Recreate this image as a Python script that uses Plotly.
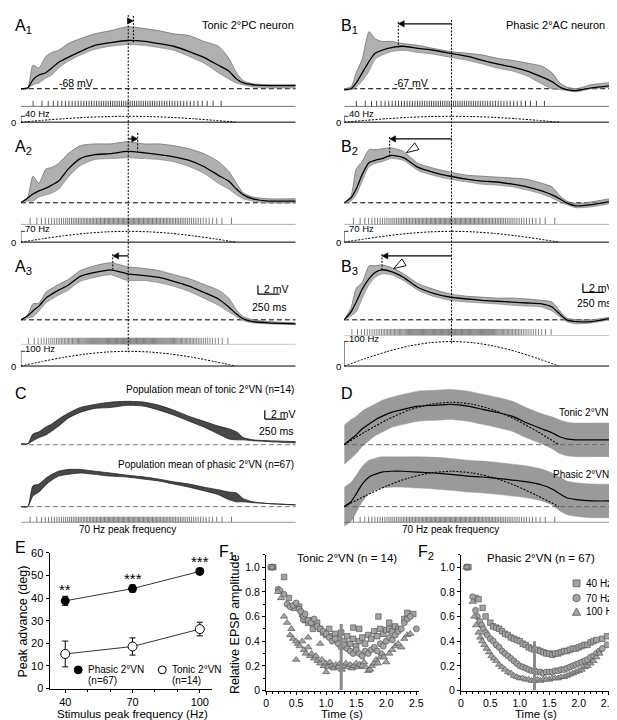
import numpy as np
import plotly.graph_objects as go

W, H = 617, 720
FONT = "Arial, 'Liberation Sans', Helvetica, sans-serif"

# ------------------------------------------------------------------ data
# stimulus: normalised frequency profile (dotted curves) and peak frequencies
STIM_PROFILE_T = [0, 0.25, 0.5, 0.75, 1.0, 1.25, 1.5, 1.75, 2.0, 2.25, 2.5]
STIM_PROFILE = [0, 0.31, 0.59, 0.81, 0.95, 1.0, 0.95, 0.81, 0.59, 0.31, 0]
PEAK_HZ = [40, 70, 100]
STIM_PEAK_T = 1.25

# membrane potential traces (mV above rest), sampled at TRACE_T (s)
TRACE_T = [0, 0.08, 0.14, 0.21, 0.29, 0.36, 0.44, 0.55, 0.69, 0.86, 1.04, 1.24,
           1.44, 1.61, 1.78, 1.96, 2.13, 2.30, 2.42, 2.51, 2.59, 2.70, 2.88, 3.20]
A1_MEAN = [0, 0.2, 2.0, 3.1, 3.6, 4.7, 6.0, 7.1, 8.4, 9.8, 10.4, 10.9, 10.7, 10.2, 9.6, 8.4, 7.1, 5.3, 4.0, 2.2, 1.3, 0.9, 0.7, 0.7]
A1_UP = [0, 0.2, 5.3, 4.7, 7.3, 8.2, 8.7, 10.2, 11.3, 12.4, 13.1, 14.0, 13.6, 13.1, 12.4, 12.0, 10.7, 9.6, 6.9, 3.6, 1.8, 1.1, 0.9, 0.9]
A1_LO = [0, 0, 0.9, 1.3, 2.4, 3.1, 4.7, 6.2, 7.6, 8.9, 9.6, 10.0, 9.8, 9.3, 8.7, 7.3, 5.8, 3.6, 2.2, 1.3, 0.9, 0.4, 0.2, 0.2]
A2_MEAN = [0, 1.1, 2.0, 2.7, 3.3, 4.0, 4.9, 7.6, 10.0, 10.9, 11.1, 11.6, 11.3, 10.9, 10.4, 9.6, 8.2, 6.2, 4.9, 3.1, 1.8, 0.9, 0.4, 0.4]
A2_UP = [0, 1.3, 6.0, 4.4, 7.6, 8.0, 8.9, 11.1, 12.9, 13.3, 13.3, 13.8, 13.3, 13.3, 12.9, 12.2, 11.1, 9.3, 7.1, 4.4, 2.2, 1.3, 0.9, 0.9]
A2_LO = [0, 0.4, 0.4, 1.3, 1.8, 2.2, 3.1, 5.8, 8.4, 9.8, 10.0, 10.2, 10.0, 9.8, 9.3, 8.2, 6.7, 4.4, 3.1, 1.8, 0.9, 0.4, 0, 0]
A3_MEAN = [0, 0.9, 2.0, 3.1, 4.9, 5.8, 6.7, 7.8, 9.8, 10.7, 11.3, 10.4, 10.0, 9.6, 8.7, 7.6, 6.2, 4.7, 2.9, 1.3, 0.2, -0.4, -0.7, -0.9]
A3_UP = [0, 1.1, 3.6, 3.8, 6.2, 7.1, 8.0, 9.1, 11.1, 12.2, 12.9, 12.0, 11.6, 11.1, 10.2, 9.3, 8.0, 6.7, 4.9, 2.2, 0.7, 0, -0.4, -0.7]
A3_LO = [0, 0.4, 0.7, 2.0, 3.8, 4.7, 5.6, 6.7, 8.7, 9.6, 10.2, 8.9, 8.9, 8.4, 7.6, 6.4, 4.9, 3.3, 1.8, 0.7, -0.2, -0.7, -0.9, -1.1]
B1_MEAN = [-0.2, 0, 1.3, 3.6, 6.2, 8.0, 8.7, 9.3, 9.6, 9.1, 8.7, 8.0, 7.3, 6.4, 5.6, 4.9, 4.0, 2.7, 1.6, 0.4, -0.2, -0.4, 0.2, 0.9]
B1_UP = [0, 0.4, 3.6, 6.7, 12.9, 11.3, 10.7, 10.7, 10.2, 9.8, 9.1, 8.4, 8.0, 7.6, 6.9, 6.4, 5.8, 5.1, 3.6, 1.3, 0.4, 0, 0.9, 1.6]
B1_LO = [-0.4, -0.2, 0.4, 1.8, 4.0, 6.7, 7.6, 8.4, 8.7, 8.2, 7.8, 7.1, 6.4, 5.6, 4.7, 4.0, 2.9, 1.1, 0, -0.2, -0.4, -0.7, 0, 0.4]
B2_MEAN = [0, 1.1, 3.1, 6.4, 9.1, 9.6, 10.0, 10.7, 10.2, 8.0, 6.9, 6.0, 5.3, 4.9, 4.7, 4.2, 3.6, 2.7, 1.8, 0.9, 0, -0.7, -0.4, 0.7]
B2_UP = [0, 1.6, 7.6, 9.3, 12.0, 12.0, 12.2, 12.4, 11.6, 8.9, 7.8, 6.9, 6.2, 6.0, 5.8, 5.6, 5.3, 4.4, 3.6, 1.6, 0.4, -0.2, 0.2, 1.3]
B2_LO = [-0.2, 0.4, 1.8, 4.9, 8.2, 8.9, 9.3, 10.0, 9.6, 7.3, 6.2, 5.3, 4.7, 4.2, 4.0, 3.6, 2.9, 2.0, 1.1, 0.2, -0.4, -1.1, -0.9, 0.2]
B3_MEAN = [0, 1.8, 4.0, 6.9, 9.3, 10.7, 11.3, 10.9, 9.6, 7.3, 6.0, 5.1, 4.7, 4.4, 4.2, 4.0, 3.8, 3.6, 2.9, 1.3, 0, -0.4, -0.4, 0.7]
B3_UP = [0, 2.7, 7.1, 8.4, 12.2, 12.2, 12.4, 11.8, 10.4, 8.2, 6.9, 5.8, 5.3, 5.1, 4.9, 4.9, 4.7, 4.4, 4.0, 2.0, 0.4, 0, 0, 0.9]
B3_LO = [-0.2, 0.9, 1.8, 4.9, 8.0, 9.6, 10.4, 10.2, 8.9, 6.7, 5.3, 4.4, 4.0, 3.8, 3.6, 3.3, 3.1, 2.9, 2.0, 0.7, -0.4, -0.9, -0.7, 0.4]
A_PEAK_T = [1.31, 1.36, 1.07]
B_PEAK_T = [0.63, 0.53, 0.44]
REST_MV = ["-68 mV", "-67 mV"]

# population means (C) and mean +/- SEM (D)
C_TONIC_UP = [0.2, 0.2, 2.4, 2.9, 4.0, 4.7, 5.8, 7.1, 8.4, 9.1, 9.6, 9.8, 9.6, 8.9, 7.8, 6.4, 5.3, 4.2, 3.6, 2.9, 1.6, 1.1, 0.9, 0.7]
C_TONIC_LO = [0.2, 0.2, 0.9, 1.6, 2.2, 3.1, 4.2, 6.0, 7.3, 8.2, 8.4, 8.9, 8.7, 7.8, 6.7, 5.3, 4.0, 2.4, 1.3, 1.1, 1.1, 0.9, 0.7, 0.4]
C_PHASIC_UP = [0, 0, 4.7, 5.1, 6.4, 7.3, 8.0, 8.4, 8.4, 8.0, 7.6, 7.1, 6.7, 6.2, 5.6, 5.1, 4.4, 3.8, 3.3, 3.1, 1.8, 1.1, 0.7, 0.4]
C_PHASIC_LO = [0, 0, 2.4, 3.3, 4.9, 6.0, 6.9, 7.3, 7.6, 7.3, 6.9, 6.7, 6.2, 5.8, 5.1, 4.4, 3.6, 2.7, 1.6, 1.1, 1.1, 0.9, 0.7, 0.4]
D_TONIC_MEAN = [0, 1.3, 2.2, 3.6, 4.7, 5.6, 6.4, 7.3, 8.0, 8.7, 8.9, 9.1, 8.7, 8.0, 7.3, 6.4, 4.9, 3.6, 2.7, 1.8, 1.3, 1.1, 1.1, 1.1]
D_TONIC_SEM = [4.4, 4.4, 4.2, 4.0, 3.8, 3.6, 3.6, 3.4, 3.4, 3.4, 3.4, 3.4, 3.4, 3.4, 3.4, 3.4, 3.4, 3.4, 3.6, 3.8, 3.8, 3.8, 3.8, 3.8]
D_PHASIC_MEAN = [0, 1.1, 2.9, 5.1, 6.7, 7.3, 7.8, 8.0, 8.0, 7.8, 7.6, 7.3, 6.9, 6.7, 6.4, 6.0, 5.6, 4.9, 4.0, 2.9, 2.0, 1.6, 1.3, 1.3]
D_PHASIC_SEM = [4.4, 4.4, 4.2, 4.0, 3.8, 3.6, 3.6, 3.6, 3.6, 3.6, 3.6, 3.6, 3.6, 3.6, 3.6, 3.6, 3.6, 3.6, 3.6, 3.8, 3.8, 3.8, 3.8, 3.8]
D_STIM_PEAK_MV = [9.6, 8.0]

# E: peak advance
E_FREQ = [40, 70, 100]
E_PHASIC = [38.8, 44.2, 51.8]
E_PHASIC_ERR = [2.0, 1.6, 1.4]
E_TONIC = [15.3, 18.6, 26.3]
E_TONIC_ERR = [5.7, 3.8, 3.0]
E_STARS = ["**", "***", "***"]
E_NAMES = [("Phasic 2°VN", "(n=67)"), ("Tonic 2°VN", "(n=14)")]

# F: relative EPSP amplitude
F1_40_T = [0.08, 0.12, 0.30, 0.38, 0.46, 0.55, 0.60, 0.65, 0.70, 0.75, 0.80, 0.85, 0.90, 0.95, 1.00, 1.05, 1.10, 1.15, 1.20, 1.25, 1.30, 1.35, 1.40, 1.45, 1.50, 1.55, 1.60, 1.65, 1.70, 1.75, 1.80, 1.85, 1.90, 1.95, 2.00, 2.05, 2.10, 2.15, 2.20, 2.30, 2.35, 2.45, 1.87, 2.05, 1.45, 1.55, 0.62, 0.78]
F1_40_Y = [1.0, 1.0, 0.92, 0.75, 0.67, 0.68, 0.62, 0.57, 0.55, 0.57, 0.53, 0.55, 0.50, 0.47, 0.45, 0.50, 0.44, 0.46, 0.42, 0.47, 0.40, 0.44, 0.38, 0.42, 0.36, 0.40, 0.43, 0.38, 0.45, 0.42, 0.48, 0.44, 0.50, 0.46, 0.49, 0.50, 0.48, 0.52, 0.50, 0.58, 0.63, 0.62, 0.60, 0.55, 0.51, 0.50, 0.58, 0.50]
F1_70_T = [0.10, 0.20, 0.23, 0.30, 0.35, 0.40, 0.45, 0.50, 0.55, 0.58, 0.62, 0.65, 0.70, 0.75, 0.80, 0.85, 0.90, 0.95, 1.00, 1.05, 1.10, 1.15, 1.20, 1.25, 1.30, 1.35, 1.40, 1.45, 1.50, 1.55, 1.60, 1.65, 1.70, 1.75, 1.80, 1.85, 1.90, 1.95, 2.00, 2.05, 2.10, 2.15, 2.20, 2.25, 2.30, 2.35, 2.40, 2.50]
F1_70_Y = [1.0, 0.82, 0.81, 0.78, 0.70, 0.68, 0.69, 0.71, 0.66, 0.64, 0.60, 0.62, 0.57, 0.55, 0.58, 0.52, 0.50, 0.48, 0.46, 0.43, 0.40, 0.42, 0.38, 0.35, 0.37, 0.34, 0.32, 0.30, 0.33, 0.30, 0.28, 0.32, 0.30, 0.33, 0.35, 0.32, 0.38, 0.36, 0.40, 0.43, 0.41, 0.45, 0.48, 0.50, 0.55, 0.58, 0.60, 0.50]
F1_100_T = [0.10, 0.20, 0.25, 0.30, 0.35, 0.40, 0.42, 0.45, 0.50, 0.53, 0.56, 0.60, 0.63, 0.66, 0.70, 0.73, 0.76, 0.80, 0.83, 0.86, 0.90, 0.93, 0.96, 1.00, 1.03, 1.06, 1.10, 1.13, 1.16, 1.20, 1.23, 1.26, 1.30, 1.33, 1.36, 1.40, 1.43, 1.46, 1.50, 1.53, 1.56, 1.60, 1.63, 1.66, 1.70, 1.73, 1.76, 1.80, 1.83, 1.86, 1.90, 1.93, 1.96, 2.00, 2.05, 2.10, 2.15, 2.20, 2.25, 2.30, 2.35, 2.40, 0.50, 0.70, 0.90, 1.00]
F1_100_Y = [1.0, 0.80, 0.75, 0.60, 0.55, 0.45, 0.50, 0.42, 0.40, 0.38, 0.36, 0.40, 0.33, 0.30, 0.35, 0.28, 0.30, 0.26, 0.28, 0.24, 0.22, 0.25, 0.20, 0.22, 0.19, 0.23, 0.20, 0.18, 0.21, 0.19, 0.22, 0.17, 0.20, 0.22, 0.19, 0.21, 0.18, 0.20, 0.22, 0.19, 0.21, 0.20, 0.23, 0.19, 0.16, 0.17, 0.20, 0.22, 0.25, 0.22, 0.27, 0.30, 0.27, 0.23, 0.30, 0.33, 0.36, 0.38, 0.35, 0.42, 0.45, 0.46, 0.25, 0.43, 0.38, 0.15]
F2_40_T = [0.10, 0.13, 0.25, 0.30, 0.37, 0.42, 0.50, 0.55, 0.60, 0.65, 0.70, 0.75, 0.80, 0.85, 0.90, 0.95, 1.00, 1.05, 1.10, 1.15, 1.20, 1.25, 1.30, 1.35, 1.40, 1.45, 1.50, 1.55, 1.60, 1.65, 1.70, 1.75, 1.80, 1.85, 1.90, 1.95, 2.00, 2.05, 2.10, 2.15, 2.20, 2.25, 2.30, 2.40, 2.48]
F2_40_Y = [1.0, 1.0, 0.75, 0.74, 0.67, 0.60, 0.55, 0.52, 0.51, 0.50, 0.48, 0.46, 0.45, 0.43, 0.42, 0.41, 0.40, 0.38, 0.37, 0.35, 0.34, 0.33, 0.33, 0.32, 0.31, 0.30, 0.30, 0.29, 0.30, 0.30, 0.31, 0.32, 0.32, 0.33, 0.34, 0.34, 0.35, 0.36, 0.37, 0.37, 0.39, 0.40, 0.41, 0.42, 0.44]
F2_70_T = [0.10, 0.20, 0.25, 0.28, 0.32, 0.35, 0.38, 0.42, 0.45, 0.50, 0.55, 0.60, 0.65, 0.70, 0.75, 0.80, 0.85, 0.90, 0.95, 1.00, 1.05, 1.10, 1.15, 1.20, 1.25, 1.30, 1.35, 1.40, 1.45, 1.50, 1.55, 1.60, 1.65, 1.70, 1.75, 1.80, 1.85, 1.90, 1.95, 2.00, 2.05, 2.10, 2.15, 2.20, 2.25, 2.30, 2.35, 2.40, 2.48]
F2_70_Y = [1.0, 0.76, 0.65, 0.60, 0.56, 0.53, 0.50, 0.47, 0.45, 0.42, 0.40, 0.37, 0.35, 0.32, 0.30, 0.28, 0.26, 0.24, 0.22, 0.20, 0.19, 0.18, 0.17, 0.16, 0.16, 0.15, 0.15, 0.14, 0.15, 0.15, 0.15, 0.16, 0.16, 0.17, 0.17, 0.18, 0.19, 0.20, 0.21, 0.22, 0.23, 0.24, 0.25, 0.27, 0.28, 0.30, 0.32, 0.34, 0.37]
F2_100_T = [0.10, 0.20, 0.23, 0.26, 0.30, 0.33, 0.36, 0.40, 0.44, 0.48, 0.52, 0.56, 0.60, 0.65, 0.70, 0.75, 0.80, 0.85, 0.90, 0.95, 1.00, 1.05, 1.10, 1.15, 1.20, 1.25, 1.30, 1.35, 1.40, 1.45, 1.50, 1.55, 1.60, 1.65, 1.70, 1.75, 1.80, 1.85, 1.90, 1.95, 2.00, 2.05, 2.10, 2.15, 2.20, 2.25, 2.30, 2.35]
F2_100_Y = [1.0, 0.72, 0.60, 0.53, 0.47, 0.43, 0.40, 0.37, 0.34, 0.31, 0.28, 0.26, 0.24, 0.21, 0.19, 0.17, 0.15, 0.14, 0.12, 0.11, 0.10, 0.10, 0.09, 0.09, 0.08, 0.08, 0.09, 0.08, 0.09, 0.09, 0.09, 0.10, 0.10, 0.10, 0.11, 0.11, 0.12, 0.13, 0.14, 0.15, 0.16, 0.17, 0.19, 0.20, 0.22, 0.24, 0.27, 0.30]
F_BAR_TOP = [0.54, 0.40]

# ------------------------------------------------------------------ helpers
traces, annotations, shapes, layout = [], [], [], {}
_n = [0]


def px_x(x):
    return x / W


def px_y(y):
    return 1 - y / H


def add_axes(xpx, ypx, xr, yr, xkw=None, ykw=None):
    _n[0] += 1
    s = '' if _n[0] == 1 else str(_n[0])
    xa = dict(domain=[xpx[0] / W, xpx[1] / W], range=xr, anchor='y' + s, visible=False, fixedrange=True)
    ya = dict(domain=[1 - ypx[1] / H, 1 - ypx[0] / H], range=yr, anchor='x' + s, visible=False, fixedrange=True)
    if xkw:
        xa.update(xkw)
    if ykw:
        ya.update(ykw)
    layout['xaxis' + s] = xa
    layout['yaxis' + s] = ya
    return 'x' + s, 'y' + s


def line(xa, ya, x, y, color='black', width=1.0, dash='solid', shape='linear', fill=None, fillcolor=None):
    traces.append(go.Scatter(x=x, y=y, xaxis=xa, yaxis=ya, mode='lines',
                             line=dict(color=color, width=width, dash=dash, shape=shape, smoothing=0.6),
                             fill=fill, fillcolor=fillcolor, hoverinfo='skip', showlegend=False))


def text(t, x, y, size=11, xanchor='center', yanchor='middle', xref='paper', yref='paper', **kw):
    if xref == 'paper':
        x = px_x(x)
    if yref == 'paper':
        y = px_y(y)
    annotations.append(dict(text=t, x=x, y=y, xref=xref, yref=yref, showarrow=False,
                            xanchor=xanchor, yanchor=yanchor,
                            font=dict(family=FONT, size=size, color='black'), **kw))


def tick_times(peak):
    tt = np.linspace(STIM_PROFILE_T[0], STIM_PROFILE_T[-1], 5001)
    rate = peak * np.interp(tt, STIM_PROFILE_T, STIM_PROFILE)
    cum = np.concatenate([[0], np.cumsum((rate[1:] + rate[:-1]) / 2 * np.diff(tt))])
    n = np.arange(0.5, cum[-1], 1.0)
    return np.interp(n, cum, tt)


MV_SCALE = 4.5          # px per mV
T_RANGE = [0, 3.2]
COL_X = {'A': (10, 288), 'B': (337, 615)}
S_PER_PX = (T_RANGE[1] - T_RANGE[0]) / (COL_X['A'][1] - COL_X['A'][0])
GREY = '#8c8c8c'
DASH = '5px,3px'
DOT = '2px,1.5px'


def row_axes(col, top, bottom, base, scale):
    return add_axes(COL_X[col], (top, bottom), T_RANGE, [-(bottom - base) / scale, (base - top) / scale])


def tick_row(col, top, bottom, peak, color, basecolor):
    xa, ya = add_axes(COL_X[col], (top, bottom), T_RANGE, [0, 1])
    xs, ys = [], []
    for t in tick_times(peak):
        xs += [t, t, None]
        ys += [0, 1, None]
    line(xa, ya, xs, ys, color=color, width=0.7)
    line(xa, ya, T_RANGE, [0, 0], color=basecolor, width=1)


def freq_row(col, base, scale, peak, zero_x):
    xa, ya = row_axes(col, base - 30, base + 3, base, scale)
    line(xa, ya, STIM_PROFILE_T, [peak * s for s in STIM_PROFILE], dash=DOT, width=1, shape='spline')
    line(xa, ya, T_RANGE, [0, 0], width=1)
    line(xa, ya, [0.05, 0, 0], [peak, peak, 0], width=0.8)
    text(f"{peak} Hz", 0.03, peak, size=9.5, xanchor='left', yanchor='middle', xref=xa, yref=ya, yshift=3)
    text("0", zero_x, base, size=9.5, xanchor='center')


def phase_arrow(xa, t_head, y_px):
    """arrow from the stimulus peak to the response peak (head = filled triangle)."""
    hl = 6 * S_PER_PX
    d = 1 if t_head > STIM_PEAK_T else -1
    base_t = t_head - d * hl
    if (base_t - STIM_PEAK_T) * d > 0:
        shapes.append(dict(type='line', xref=xa, yref='paper', x0=STIM_PEAK_T, x1=base_t,
                           y0=px_y(y_px), y1=px_y(y_px), line=dict(color='black', width=1.1)))
    shapes.append(dict(type='path', xref=xa, yref='paper',
                       path=f"M {t_head},{px_y(y_px)} L {base_t},{px_y(y_px - 3.2)} "
                            f"L {base_t},{px_y(y_px + 3.2)} Z",
                       fillcolor='black', line=dict(color='black', width=0.5)))


def open_head(tip, base_c, half=4.0):
    dx, dy = tip[0] - base_c[0], tip[1] - base_c[1]
    n = (dx * dx + dy * dy) ** 0.5
    ox, oy = -dy / n * half, dx / n * half
    p1 = (base_c[0] + ox, base_c[1] + oy)
    p2 = (base_c[0] - ox, base_c[1] - oy)
    shapes.append(dict(type='path', xref='paper', yref='paper',
                       path=f"M {px_x(tip[0])},{px_y(tip[1])} L {px_x(p1[0])},{px_y(p1[1])} "
                            f"L {px_x(p2[0])},{px_y(p2[1])} Z",
                       fillcolor='white', line=dict(color='black', width=0.9)))


# ------------------------------------------------------------------ A / B rows
ROWS = [
    dict(col='A', m=A1_MEAN, u=A1_UP, l=A1_LO, tr=(0, 84, 76), tk=(88, 94), fb=110, fs=0.15, hz=40,
         pk=A_PEAK_T[0], ay=7, sec=(2, 30), tcol='black', bcol='black'),
    dict(col='A', m=A2_MEAN, u=A2_UP, l=A2_LO, tr=(118, 200, 192), tk=(207, 214), fb=232, fs=0.157, hz=70,
         pk=A_PEAK_T[1], ay=127, sec=(121, 141), tcol='#444', bcol='#666'),
    dict(col='A', m=A3_MEAN, u=A3_UP, l=A3_LO, tr=(240, 318, 311), tk=(329, 336), fb=358, fs=0.15, hz=100,
         pk=A_PEAK_T[2], ay=246, sec=(244, 261), tcol='#555', bcol='#999'),
    dict(col='B', m=B1_MEAN, u=B1_UP, l=B1_LO, tr=(0, 84, 76), tk=(88, 94), fb=110, fs=0.15, hz=40,
         pk=B_PEAK_T[0], ay=10, sec=(8, 34), tcol='black', bcol='black'),
    dict(col='B', m=B2_MEAN, u=B2_UP, l=B2_LO, tr=(118, 200, 192), tk=(207, 214), fb=232, fs=0.157, hz=70,
         pk=B_PEAK_T[1], ay=127, sec=(125, 145), tcol='#444', bcol='#666'),
    dict(col='B', m=B3_MEAN, u=B3_UP, l=B3_LO, tr=(240, 318, 311), tk=(320, 327), fb=358, fs=0.25, hz=100,
         pk=B_PEAK_T[2], ay=246, sec=(244, 261), tcol='#555', bcol='#999'),
]

col_axis = {}
for r in ROWS:
    top, bottom, base = r['tr']
    xa, ya = row_axes(r['col'], top, bottom, base, MV_SCALE)
    col_axis.setdefault(r['col'], xa)
    r['xa'], r['ya'] = xa, ya
    line(xa, ya, T_RANGE, [0, 0], dash=DASH, width=1)
    line(xa, ya, TRACE_T, r['l'], color=GREY, width=0.8, shape='spline')
    line(xa, ya, TRACE_T, r['u'], color='#7a7a7a', width=0.9, shape='spline', fill='tonexty',
         fillcolor='rgba(150,150,150,0.75)')
    line(xa, ya, TRACE_T, r['m'], color='black', width=1.3, shape='spline')
    tick_row(r['col'], r['tk'][0], r['tk'][1], r['hz'], r['tcol'], r['bcol'])
    freq_row(r['col'], r['fb'], r['fs'], r['hz'], 3 if r['col'] == 'A' else 331)
    shapes.append(dict(type='line', xref=xa, yref='paper', x0=r['pk'], x1=r['pk'],
                       y0=px_y(r['sec'][0]), y1=px_y(r['sec'][1]),
                       line=dict(color='black', width=1, dash=DOT)))
    phase_arrow(xa, r['pk'], r['ay'])

# main stimulus-peak dotted verticals
shapes.append(dict(type='line', xref=col_axis['A'], yref='paper', x0=STIM_PEAK_T, x1=STIM_PEAK_T,
                   y0=px_y(1), y1=px_y(344), line=dict(color='black', width=1, dash=DOT)))
shapes.append(dict(type='line', xref=col_axis['B'], yref='paper', x0=STIM_PEAK_T, x1=STIM_PEAK_T,
                   y0=px_y(6), y1=px_y(335), line=dict(color='black', width=1, dash=DOT)))

# open arrowheads in B2 / B3 (pointing down-left at the adapting response)
open_head((400, 141), (410.5, 134.5))
open_head((387, 259), (397.5, 252.5))

# labels
LBL = 16
text("A<sub>1</sub>", 2, 13, size=LBL, xanchor='left')
text("A<sub>2</sub>", 2, 136, size=LBL, xanchor='left')
text("A<sub>3</sub>", 2, 258, size=LBL, xanchor='left')
text("B<sub>1</sub>", 332, 13, size=LBL, xanchor='left')
text("B<sub>2</sub>", 332, 136, size=LBL, xanchor='left')
text("B<sub>3</sub>", 332, 258, size=LBL, xanchor='left')
text("C", 2, 386, size=LBL, xanchor='left')
text("D", 332, 386, size=LBL, xanchor='left')
text("E", 2, 543, size=LBL, xanchor='left')
text("F<sub>1</sub>", 208, 548, size=LBL, xanchor='left')
text("F<sub>2</sub>", 410, 548, size=LBL, xanchor='left')
text("Tonic 2°PC neuron", 240, 11, size=11)
text("Phasic 2°AC neuron", 551, 11, size=11)
text(REST_MV[0], 47, 70, size=10.5, xanchor='left')
text(REST_MV[1], 385, 70, size=10.5, xanchor='left')


def scale_bar(xa, ya, t0, v0, label_shift):
    shapes.append(dict(type='line', xref=xa, yref=ya, x0=t0, x1=t0, y0=v0, y1=v0 + 2,
                       line=dict(color='black', width=1.2)))
    shapes.append(dict(type='line', xref=xa, yref=ya, x0=t0, x1=t0 + 0.25, y0=v0, y1=v0,
                       line=dict(color='black', width=1.2)))
    text("2 mV", t0 + 0.05, v0 + 1.1, size=10.5, xanchor='left', xref=xa, yref=ya)
    text("250 ms", t0 + 0.125, v0 - label_shift, size=10.5, xref=xa, yref=ya)


scale_bar(ROWS[2]['xa'], ROWS[2]['ya'], 2.76, 5.8, 2.8)
scale_bar(ROWS[5]['xa'], ROWS[5]['ya'], 2.78, 6.2, 2.4)

# ------------------------------------------------------------------ C
xa, ya = row_axes('A', 385, 445, 438, MV_SCALE)
line(xa, ya, T_RANGE, [0, 0], color='#777', dash=DASH)
line(xa, ya, TRACE_T, C_TONIC_LO, color='#222', width=0.8, shape='spline')
line(xa, ya, TRACE_T, C_TONIC_UP, color='#222', width=0.8, shape='spline', fill='tonexty',
     fillcolor='rgba(40,40,40,0.85)')
scale_bar(xa, ya, 2.84, 5.8, 2.8)
text("Population mean of tonic 2°VN (n=14)", 288, 382, size=10, xanchor='right')

xa, ya = row_axes('A', 452, 508, 501, MV_SCALE)
line(xa, ya, T_RANGE, [0, 0], color='#777', dash=DASH)
line(xa, ya, TRACE_T, C_PHASIC_LO, color='#222', width=0.8, shape='spline')
line(xa, ya, TRACE_T, C_PHASIC_UP, color='#222', width=0.8, shape='spline', fill='tonexty',
     fillcolor='rgba(40,40,40,0.85)')
text("Population mean of phasic 2°VN (n=67)", 288, 458, size=10, xanchor='right')
tick_row('A', 511, 517, PEAK_HZ[1], '#444', '#444')
text("70 Hz peak frequency", 118, 524, size=10)

# ------------------------------------------------------------------ D
for mean, sem, top, bottom, base, pkmv in [(D_TONIC_MEAN, D_TONIC_SEM, 375, 462, 438, D_STIM_PEAK_MV[0]),
                                           (D_PHASIC_MEAN, D_PHASIC_SEM, 450, 525, 501, D_STIM_PEAK_MV[1])]:
    xa, ya = row_axes('B', top, bottom, base, MV_SCALE)
    line(xa, ya, TRACE_T, [m - s for m, s in zip(mean, sem)], color='#9a9a9a', width=0.5, shape='spline')
    line(xa, ya, TRACE_T, [m + s for m, s in zip(mean, sem)], color='#9a9a9a', width=0.5, shape='spline',
         fill='tonexty', fillcolor='#9a9a9a')
    line(xa, ya, T_RANGE, [0, 0], color='#666', dash=DASH)
    line(xa, ya, STIM_PROFILE_T, [pkmv * s for s in STIM_PROFILE], dash=DOT, width=1.1, shape='spline')
    line(xa, ya, TRACE_T, mean, color='black', width=1.2, shape='spline')
text("Tonic 2°VN", 607, 405, size=10, xanchor='right')
text("Phasic 2°VN", 607, 468, size=10, xanchor='right')
tick_row('B', 511, 517, PEAK_HZ[1], '#444', '#444')
text("70 Hz peak frequency", 445, 524, size=10)

# ------------------------------------------------------------------ E
AX = dict(visible=True, showline=True, linecolor='black', linewidth=1, ticks='outside', ticklen=3,
          tickwidth=1, tickcolor='black', showgrid=False, zeroline=False,
          tickfont=dict(family=FONT, size=11, color='black'))
xa, ya = add_axes((39, 203), (548, 686), [33, 105.3], [0, 60],
                  xkw=dict(AX, tickvals=E_FREQ, ticktext=[str(v) for v in E_FREQ],
                           minor=dict(ticks='outside', ticklen=2, tick0=40, dtick=10, tickcolor='black')),
                  ykw=dict(AX, tickvals=[0, 10, 20, 30, 40, 50, 60]))
traces.append(go.Scatter(x=E_FREQ, y=E_PHASIC, xaxis=xa, yaxis=ya, mode='lines',
                         line=dict(color='black', width=0.8), showlegend=False, hoverinfo='skip'))
traces.append(go.Scatter(x=E_FREQ, y=E_TONIC, xaxis=xa, yaxis=ya, mode='lines',
                         line=dict(color='black', width=0.8), showlegend=False, hoverinfo='skip'))
traces.append(go.Scatter(x=E_FREQ, y=E_PHASIC, xaxis=xa, yaxis=ya, mode='markers', showlegend=False,
                         marker=dict(symbol='circle', size=9, color='black'),
                         error_y=dict(type='data', array=E_PHASIC_ERR, color='black', thickness=1, width=3),
                         cliponaxis=False, hoverinfo='skip'))
traces.append(go.Scatter(x=E_FREQ, y=E_TONIC, xaxis=xa, yaxis=ya, mode='markers', showlegend=False,
                         marker=dict(symbol='circle', size=9, color='white', line=dict(color='black', width=1)),
                         error_y=dict(type='data', array=E_TONIC_ERR, color='black', thickness=1, width=3),
                         cliponaxis=False, hoverinfo='skip'))
for f, v, e, s in zip(E_FREQ, E_PHASIC, E_PHASIC_ERR, E_STARS):
    text(s, f, v + e, size=15, yanchor='bottom', xref=xa, yref=ya, yshift=-4)
for (cx, fillc), (n1, n2) in zip([(68, 'black'), (153, 'white')], E_NAMES):
    shapes.append(dict(type='circle', xref='paper', yref='paper', x0=px_x(cx - 4), x1=px_x(cx + 4),
                       y0=px_y(671), y1=px_y(663), fillcolor=fillc, line=dict(color='black', width=1)))
    text(n1, cx + 8, 667, size=10, xanchor='left')
    text(n2, cx + 8, 678, size=10, xanchor='left')
text("Peak advance (deg)", 12, 618, size=12.5, textangle=-90)
text("Stimulus peak frequency (Hz)", 123, 711.5, size=11.5)

# ------------------------------------------------------------------ F
FAX = dict(AX, tickfont=dict(family=FONT, size=10.5, color='black'))
FX = dict(FAX, tickvals=[0, 0.5, 1.0, 1.5, 2.0, 2.5], ticktext=['0', '0.5', '1.0', '1.5', '2.0', '2.5'],
          minor=dict(ticks='outside', ticklen=2, dtick=0.1, tick0=0, tickcolor='black'))
FY = dict(FAX, tickvals=[0, 0.2, 0.4, 0.6, 0.8, 1.0], ticktext=['0', '0.2', '0.4', '0.6', '0.8', '1.0'],
          minor=dict(ticks='outside', ticklen=2, dtick=0.1, tick0=0, tickcolor='black'))
MKC, MKL = '#a3a3a3', '#4a4a4a'
MK = dict(color=MKC, line=dict(color=MKL, width=0.6))
F_SETS = [
    [(F1_40_T, F1_40_Y), (F1_70_T, F1_70_Y), (F1_100_T, F1_100_Y)],
    [(F2_40_T, F2_40_Y), (F2_70_T, F2_70_Y), (F2_100_T, F2_100_Y)],
]
SYMS = [('square', 5.5), ('circle', 6), ('triangle-up', 6.5)]
for i, (xpx, sets) in enumerate(zip([(258, 413), (455, 607)], F_SETS)):
    xa, ya = add_axes(xpx, (550, 688), [0, 2.55], [0, 1.1], xkw=FX, ykw=FY)
    for (t, y), (sym, sz) in zip(sets, SYMS):
        traces.append(go.Scatter(x=t, y=y, xaxis=xa, yaxis=ya, mode='markers',
                                 marker=dict(MK, symbol=sym, size=sz), cliponaxis=False,
                                 showlegend=False, hoverinfo='skip'))
    shapes.append(dict(type='rect', xref=xa, yref=ya, x0=STIM_PEAK_T - 0.025, x1=STIM_PEAK_T + 0.025,
                       y0=0, y1=F_BAR_TOP[i], fillcolor='#8a8a8a', line=dict(width=0), layer='above'))
# F2 legend keys (layout shapes) + labels
LX, LY = 572, [579, 594, 608]
shapes.append(dict(type='rect', xref='paper', yref='paper', x0=px_x(LX - 3.5), x1=px_x(LX + 3.5),
                   y0=px_y(LY[0] + 3.5), y1=px_y(LY[0] - 3.5), fillcolor=MKC, line=dict(color=MKL, width=0.7)))
shapes.append(dict(type='circle', xref='paper', yref='paper', x0=px_x(LX - 3.8), x1=px_x(LX + 3.8),
                   y0=px_y(LY[1] + 3.8), y1=px_y(LY[1] - 3.8), fillcolor=MKC, line=dict(color=MKL, width=0.7)))
shapes.append(dict(type='path', xref='paper', yref='paper',
                   path=f"M {px_x(LX - 4.2)},{px_y(LY[2] + 3.5)} L {px_x(LX + 4.2)},{px_y(LY[2] + 3.5)} "
                        f"L {px_x(LX)},{px_y(LY[2] - 4)} Z",
                   fillcolor=MKC, line=dict(color=MKL, width=0.7)))
for hz, ly in zip(PEAK_HZ, LY):
    text(f"{hz} Hz", LX + 8, ly, size=10, xanchor='left')

text("Tonic 2°VN (n = 14)", 340, 553, size=11.5)
text("Phasic 2°VN (n = 67)", 536, 553, size=11.5)
text("Relative EPSP amplitude", 226, 621, size=12.5, textangle=-90)
text("Time (s)", 335, 712, size=11.5)
text("Time (s)", 531, 712, size=11.5)

layout.update(
    width=W, height=H, margin=dict(l=0, r=0, t=0, b=0),
    paper_bgcolor='white', plot_bgcolor='rgba(0,0,0,0)',
    font=dict(family=FONT, color='black'),
    showlegend=False,
    annotations=annotations, shapes=shapes,
)

fig = go.Figure(data=traces, layout=layout)
fig.write_html("out.html")
